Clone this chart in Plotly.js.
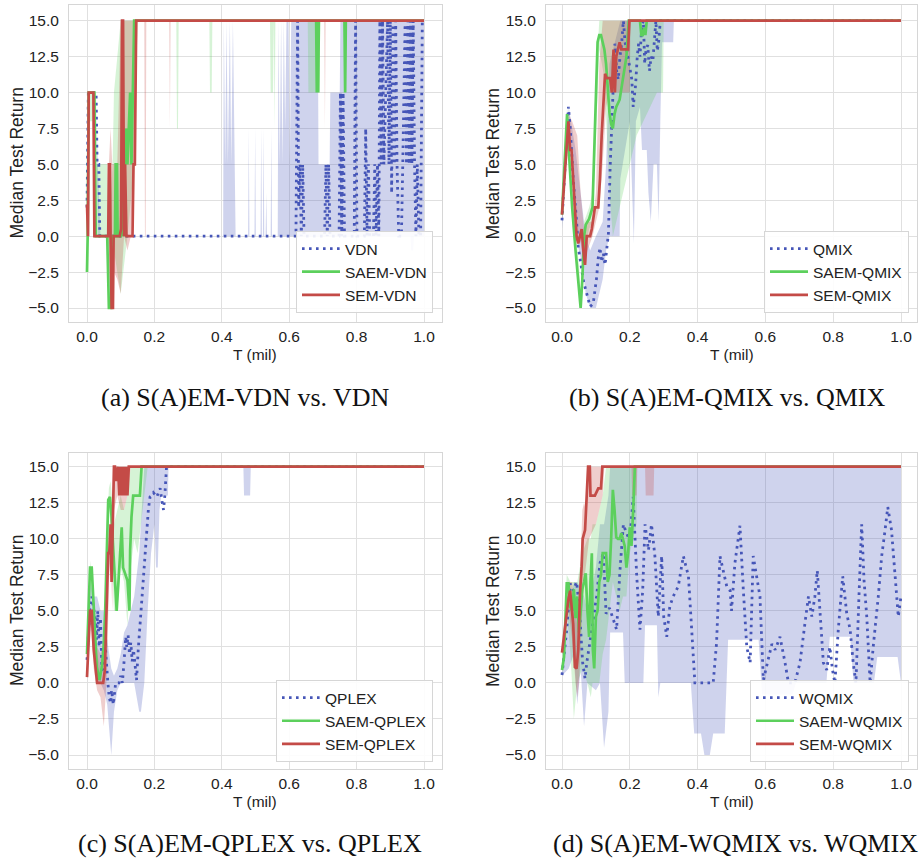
<!DOCTYPE html>
<html><head><meta charset="utf-8">
<script src="https://cdn.plot.ly/plotly-3.0.1.min.js"></script>
<style>html,body{margin:0;padding:0;background:#fff}#chart{width:920px;height:859px}</style>
</head><body><div id="chart"></div>
<script>
// ---------- tick labels ----------
const xTickVals = [0, 0.2, 0.4, 0.6, 0.8, 1.0];
const xTickText = ['0.0', '0.2', '0.4', '0.6', '0.8', '1.0'];
const yTickVals = [-5, -2.5, 0, 2.5, 5, 7.5, 10, 12.5, 15];
const yTickText = ['\u22125.0', '\u22122.5', '0.0', '2.5', '5.0', '7.5', '10.0', '12.5', '15.0'];

// ---------- panel (a): VDN ----------
const a_vdn_x = [0, 0.004, 0.027, 0.03, 0.035, 0.038, 0.62, 0.625, 0.628, 0.632, 0.636, 0.64, 0.644, 0.648, 0.705, 0.709, 0.713, 0.717, 0.721, 0.748, 0.752, 0.756, 0.76, 0.764, 0.793, 0.797, 0.801, 0.823, 0.827, 0.831, 0.835, 0.839, 0.85, 0.854, 0.858, 0.862, 0.866, 0.869, 0.873, 0.877, 0.881, 0.892, 0.896, 0.9, 0.904, 0.908, 0.912, 0.916, 0.92, 0.925, 0.933, 0.937, 0.944, 0.948, 0.952, 0.956, 0.96, 0.964, 0.968, 0.972, 0.976, 0.98, 0.985, 0.99, 0.995, 1.0];
const a_vdn_y = [2, 10, 10, 5, 5, 0, 0, 15, 2, 5, 0, 5, 0, 0, 0, 5, 0, 5, 0, 0, 10, 0, 10, 0, 0, 15, 0, 0, 7.5, 0, 5, 0, 0, 5, 0, 5, 0, 15, 5, 15, 5, 15, 5, 15, 3, 15, 5, 15, 5, 0, 0, 5, 15, 5, 15, 5, 15, 5, 15, 5, 0, 5, 0, 0, 15, 15];
const a_saem_x = [0, 0.002, 0.005, 0.022, 0.026, 0.06, 0.065, 0.072, 0.076, 0.083, 0.085, 0.089, 0.091, 0.1, 0.104, 0.108, 0.112, 0.116, 0.12, 0.124, 0.128, 0.132, 0.136, 0.14, 0.68, 0.682, 0.684, 0.686, 0.688, 0.764, 0.766, 0.768, 1.0];
const a_saem_y = [-2.5, 0, 10, 10, 0, 0, -5, -5, 0, 0, 5, 5, 0, 0, 3, 0, 5, 7.5, 5, 7.5, 10, 5, 10, 15, 15, 10, 15, 10, 15, 15, 10, 15, 15];
const a_sem_x = [0, 0.001, 0.003, 0.005, 0.019, 0.022, 0.063, 0.065, 0.068, 0.07, 0.073, 0.077, 0.079, 0.097, 0.101, 0.104, 0.107, 0.11, 0.113, 0.117, 0.135, 0.138, 0.142, 0.146, 1.0];
const a_sem_y = [2.2, 0, 0, 10, 10, 0, 0, 5, 5, 0, -5, -5, 0, 0, 0.5, 15, 15, 0, 5, 0, 0, 5, 5, 15, 15];
// bands
const a_vdn_bx = [0, 0.004, 0.027, 0.032, 0.04, 0.404, 0.406, 0.41, 0.414, 0.418, 0.424, 0.428, 0.433, 0.437, 0.441, 0.478, 0.48, 0.482, 0.497, 0.499, 0.501, 0.515, 0.517, 0.519, 0.522, 0.524, 0.526, 0.53, 0.532, 0.534, 0.545, 0.547, 0.549, 0.566, 0.568, 0.572, 0.576, 0.58, 0.584, 0.588, 0.592, 0.598, 0.602, 0.606, 0.685, 0.687, 0.72, 0.722, 0.75, 0.752, 0.96, 0.962, 0.968, 0.97, 1.0];
const a_vdn_lo = [2, 10, 10, 0, 0, 0, 0, 0, 0, 0, 0, 0, 0, 0, 0, 0, 0, 0, 0, 0, 0, 0, 0, 0, 0, 0, 0, 0, 0, 0, 0, 0, 0, 0, 0, 0, 0, 0, 0, 0, 0, 0, 0, 0, 0, 0, 0, 0, 0, 0, 0, -1, -1, 0, 0];
const a_vdn_hi = [2, 10, 10, 5, 0, 0, 15, 5, 15, 5, 15, 5, 15, 5, 0, 0, 7.5, 0, 0, 7.5, 0, 0, 7.5, 0, 0, 7.5, 0, 0, 3, 0, 0, 7.5, 0, 0, 15, 5, 15, 5, 15, 7.5, 15, 15, 5, 15, 15, 5, 5, 10, 10, 15, 15, 15, 15, 15, 15];
const a_saem_bx = [0, 0.005, 0.022, 0.026, 0.06, 0.065, 0.076, 0.08, 0.1, 0.12, 0.14, 0.15, 0.265, 0.267, 0.27, 0.272, 0.363, 0.365, 0.37, 0.372, 0.543, 0.545, 0.552, 0.554, 0.557, 0.559, 0.655, 0.657, 0.69, 0.692, 0.762, 0.764, 0.768, 0.77, 1.0];
const a_saem_lo = [-2.5, 8, 8, 0, 0, -5, -5, -1, -4, 0, 5, 15, 15, 7.5, 7.5, 15, 15, 10, 10, 15, 15, 10, 10, 15, 7.5, 15, 15, 10, 10, 15, 15, 10, 10, 15, 15];
const a_saem_hi = [0, 10, 10, 5, 5, 0, 5, 10, 15, 15, 15, 15, 15, 15, 15, 15, 15, 15, 15, 15, 15, 15, 15, 15, 15, 15, 15, 15, 15, 15, 15, 15, 15, 15, 15];
const a_sem_bx = [0, 0.005, 0.019, 0.022, 0.06, 0.065, 0.07, 0.075, 0.08, 0.09, 0.1, 0.11, 0.12, 0.13, 0.14, 0.15, 0.17, 0.172, 0.174, 0.176, 0.244, 0.246, 0.248, 0.704, 0.706, 0.708, 1.0];
const a_sem_lo = [2.2, 10, 10, 0, 0, -1, -5, -5, -2.5, -3, -4, 0, -1, 0, 5, 15, 15, 0, 0, 15, 15, 7.5, 15, 15, 7.5, 15, 15];
const a_sem_hi = [2.2, 10, 10, 0, 0, 5, 7.5, 5, 5, 5, 15, 15, 15, 15, 15, 15, 15, 15, 15, 15, 15, 15, 15, 15, 15, 15, 15];

// ---------- panel (b): QMIX ----------
const b_qmix_x = [0, 0.019, 0.024, 0.033, 0.043, 0.048, 0.053, 0.063, 0.073, 0.083, 0.092, 0.102, 0.107, 0.112, 0.117, 0.122, 0.127, 0.132, 0.137, 0.142, 0.147, 0.151, 0.156, 0.161, 0.166, 0.171, 0.176, 0.181, 0.186, 0.191, 0.196, 0.201, 0.206, 0.21, 0.213, 0.217, 0.222, 0.226, 0.23, 0.235, 0.24, 0.244, 0.248, 0.253, 0.258, 0.263, 0.268, 0.272, 0.277, 0.281, 0.285, 0.29, 1.0];
const b_qmix_y = [1.1, 9, 7.6, 4, 1, -0.8, -1.5, -3.1, -4, -4.9, -4.7, -2.9, -1.5, -0.8, -1.8, -1.2, -2, -0.7, 0.2, 4.8, 7.6, 9.9, 13.4, 11.5, 10.9, 12.5, 13.4, 15, 13.5, 13, 12.3, 11.5, 10.9, 9, 9.5, 10.5, 12.5, 13.4, 12.5, 14.5, 15, 12, 13, 13.3, 11.5, 12.5, 12.2, 13.5, 15, 12.9, 13.5, 15, 15];
const b_saem_x = [0, 0.015, 0.02, 0.03, 0.04, 0.05, 0.055, 0.06, 0.065, 0.07, 0.075, 0.08, 0.09, 0.1, 0.105, 0.11, 0.115, 0.12, 0.125, 0.13, 0.135, 0.14, 0.145, 0.15, 0.155, 0.16, 0.17, 0.18, 0.19, 0.197, 0.23, 0.234, 0.238, 0.242, 0.246, 0.25, 1.0];
const b_saem_y = [1.5, 8.5, 6, 2, -1, -3.5, -5, -3, 0, 0.8, 1, 1.2, 2, 9, 13.5, 14, 14, 13.5, 13, 12, 10, 8.6, 7.8, 7.5, 8.5, 9, 9.5, 11, 12.5, 15, 15, 14, 14, 14.5, 14, 15, 15];
const b_sem_x = [0, 0.019, 0.024, 0.028, 0.033, 0.043, 0.048, 0.053, 0.058, 0.063, 0.068, 0.073, 0.083, 0.088, 0.097, 0.107, 0.112, 0.117, 0.122, 0.127, 0.132, 0.142, 0.147, 0.152, 0.156, 0.16, 0.165, 0.17, 0.175, 0.18, 0.185, 0.195, 0.199, 1.0];
const b_sem_y = [1.5, 8, 6, 6, 4, 0, -0.5, 0, 0.5, -1, -2, 0, 0, 0.5, 2, 2, 4, 7, 9.5, 11.3, 11, 11, 10, 13, 10, 12.5, 13, 13.5, 13, 13, 13, 13, 15, 15];
const b_qmix_bx = [0, 0.02, 0.04, 0.06, 0.07, 0.083, 0.1, 0.12, 0.13, 0.14, 0.17, 0.172, 0.2, 0.205, 0.212, 0.218, 0.23, 0.236, 0.25, 0.255, 0.262, 0.27, 0.28, 0.285, 0.29, 0.295, 0.297, 0.328, 0.33, 1.0];
const b_qmix_lo = [0.5, 8.5, 0, -2, -4, -5, -5, -3, -1, 0, 0, 4, 8, 4, -0.5, 8, 9, 6, 6, 3, 1, 5, 5, 1, 8, 13.5, 13.5, 13.5, 15, 15];
const b_qmix_hi = [1.5, 9, 6, 2, 0, -1, 0, 1, 5, 12, 15, 15, 15, 15, 15, 15, 15, 15, 15, 15, 15, 15, 15, 15, 15, 15, 15, 15, 15, 15];
const b_saem_bx = [0, 0.015, 0.03, 0.05, 0.055, 0.065, 0.08, 0.09, 0.1, 0.11, 0.125, 0.14, 0.15, 0.16, 0.18, 0.2, 0.22, 0.24, 0.26, 0.28, 0.29, 0.298, 0.3, 1.0];
const b_saem_lo = [1, 8, 1, -4, -5, -1, 0.5, 1, 7, 13, 11, 3, 0, 1, 3, 5, 7, 8, 9, 10, 10, 10, 15, 15];
const b_saem_hi = [2, 9, 3, -2, -4, 1, 2, 3, 11, 15, 15, 15, 15, 15, 15, 15, 15, 15, 15, 15, 15, 15, 15, 15];
const b_sem_bx = [0, 0.019, 0.03, 0.045, 0.055, 0.065, 0.075, 0.09, 0.1, 0.11, 0.12, 0.13, 0.14, 0.16, 0.18, 0.2, 0.202, 1.0];
const b_sem_lo = [1.2, 7.5, 5, 0, -0.5, -2, -1, 0, 1, 2, 5, 9, 10, 10, 10, 10, 15, 15];
const b_sem_hi = [2, 8.5, 8, 7, 3, 0.5, 1, 1, 3, 12, 15, 15, 15, 15, 15, 15, 15, 15];

// ---------- panel (c): QPLEX ----------
const c_qplex_x = [0, 0.009, 0.014, 0.02, 0.024, 0.028, 0.032, 0.036, 0.04, 0.044, 0.048, 0.053, 0.058, 0.062, 0.066, 0.07, 0.073, 0.078, 0.085, 0.095, 0.1, 0.105, 0.11, 0.115, 0.118, 0.122, 0.126, 0.13, 0.134, 0.138, 0.142, 0.147, 0.152, 0.157, 0.162, 0.167, 0.172, 0.177, 0.182, 0.187, 0.192, 0.197, 0.202, 0.207, 0.212, 0.217, 0.222, 0.227, 0.231, 0.236, 1.0];
const c_qplex_y = [1.6, 5.3, 6, 5, 4.5, 3, 5, 2.5, 4.5, 1, 0.9, 3, 1, 0, -1, -1.4, -0.5, -1.5, 0, 0, 0.5, 0, 1.5, 3.2, 2.5, 3.3, 2, 2.8, 1.5, 2.3, 1.4, 0.2, 2.3, 3.9, 5.8, 6.9, 8.5, 10.1, 12, 12.9, 13, 13.2, 13, 12.9, 13.2, 13.5, 12.7, 12, 13, 15, 15];
const c_saem_x = [0, 0.009, 0.014, 0.019, 0.024, 0.029, 0.037, 0.044, 0.049, 0.054, 0.058, 0.063, 0.068, 0.073, 0.078, 0.083, 0.088, 0.093, 0.098, 0.103, 0.107, 0.113, 0.12, 0.126, 0.128, 0.132, 0.137, 0.157, 0.162, 1.0];
const c_saem_y = [2, 8, 8, 5.3, 3.4, 1.1, 0.2, 1.1, 2.3, 5, 9.2, 12.7, 12.9, 11.5, 9.2, 7.4, 5, 6.9, 9.2, 10.8, 8, 7.6, 7.1, 5, 9.2, 11.5, 13, 13, 15, 15];
const c_sem_x = [0, 0.009, 0.014, 0.02, 0.026, 0.03, 0.048, 0.053, 0.058, 0.063, 0.066, 0.07, 0.073, 0.076, 0.08, 0.083, 0.086, 0.092, 0.096, 0.1, 0.104, 0.108, 0.112, 0.116, 0.12, 0.124, 1.0];
const c_sem_y = [0.4, 5, 5, 2.3, 0.9, 0, 0, 0.9, 5, 9, 9, 11, 7, 10, 15, 15, 14, 15, 13, 15, 13, 15, 13, 15, 13, 15, 15];
const c_qplex_bx = [0, 0.01, 0.02, 0.03, 0.04, 0.05, 0.06, 0.072, 0.08, 0.09, 0.1, 0.11, 0.12, 0.13, 0.14, 0.155, 0.16, 0.17, 0.18, 0.19, 0.2, 0.205, 0.21, 0.215, 0.22, 0.225, 0.24, 0.242, 0.464, 0.466, 0.484, 0.486, 1.0];
const c_qplex_lo = [1.5, 4, 3, 0, 0, -0.5, -1.5, -5, -2, -0.5, 0, 0, 0, 0, 0, -2, -2, 0, 5, 9, 11, 8, 8, 12, 13, 13, 13, 15, 15, 13, 13, 15, 15];
const c_qplex_hi = [2, 7, 6, 6, 5, 5, 3, 1, 0.5, 1, 2, 3.5, 4, 5, 6, 9, 11, 15, 15, 15, 15, 15, 15, 15, 15, 15, 15, 15, 15, 15, 15, 15, 15];
const c_saem_bx = [0, 0.01, 0.02, 0.03, 0.04, 0.05, 0.06, 0.065, 0.07, 0.08, 0.09, 0.1, 0.11, 0.12, 0.13, 0.14, 0.15, 0.16, 0.17, 0.18, 0.185, 1.0];
const c_saem_lo = [1.5, 7.5, 4, 0.5, 0, 1.5, 6, 12, 11, 5, 5, 8, 7, 4, 8, 10, 9, 11, 13, 15, 15, 15];
const c_saem_hi = [2.5, 8.5, 6, 2, 1, 3, 11, 13.5, 14, 11, 12, 13, 12, 13, 15, 15, 15, 15, 15, 15, 15, 15];
const c_sem_bx = [0, 0.01, 0.02, 0.03, 0.04, 0.05, 0.055, 0.06, 0.065, 0.07, 0.075, 0.08, 0.09, 0.1, 0.11, 0.12, 0.13, 1.0];
const c_sem_lo = [0.3, 4.5, 1, -0.5, -1, -3, -1, 1, 7, 9, 5, 12, 13, 12, 12, 13, 15, 15];
const c_sem_hi = [0.5, 5.5, 3, 2.5, 2, 3, 3, 3, 10, 12, 12, 15, 15, 15, 15, 15, 15, 15];

// ---------- panel (d): WQMIX ----------
const d_wqmix_x = [0, 0.014, 0.024, 0.033, 0.043, 0.05, 0.055, 0.061, 0.068, 0.073, 0.088, 0.102, 0.112, 0.122, 0.13, 0.14, 0.15, 0.161, 0.171, 0.181, 0.19, 0.2, 0.21, 0.22, 0.23, 0.238, 0.245, 0.255, 0.264, 0.274, 0.284, 0.294, 0.3, 0.309, 0.318, 0.328, 0.343, 0.358, 0.373, 0.383, 0.392, 0.446, 0.456, 0.466, 0.476, 0.486, 0.496, 0.5, 0.51, 0.525, 0.535, 0.545, 0.555, 0.564, 0.574, 0.584, 0.594, 0.609, 0.619, 0.629, 0.643, 0.658, 0.668, 0.687, 0.702, 0.717, 0.727, 0.737, 0.746, 0.753, 0.761, 0.771, 0.781, 0.79, 0.798, 0.805, 0.815, 0.828, 0.84, 0.85, 0.859, 0.867, 0.876, 0.884, 0.891, 0.899, 0.909, 0.918, 0.933, 0.943, 0.953, 0.961, 0.972, 0.982, 0.992, 1.0];
const d_wqmix_y = [0.55, 3.7, 6.9, 6.4, 7, 5.5, 3.7, 1.4, 0.3, 1.4, 3.7, 6, 8.3, 9, 4.8, 5.2, 4.5, 3.7, 7.8, 11, 10.4, 9.9, 12.9, 7.6, 3.7, 6.4, 11, 9.2, 11, 8.8, 4.6, 8.8, 4.6, 3.2, 5.3, 6, 6.7, 8.8, 7.4, 3.7, 0, 0, 2.8, 8.8, 7.8, 6.7, 6.4, 5, 8.3, 10.9, 6.4, 2.5, 1.4, 8.8, 7.4, 6, 0.2, 1.8, 2.7, 2.3, 3.2, 1.4, 0, 0, 1.4, 4.2, 6, 4.6, 6, 7.8, 5, 1.4, 0.9, 2.5, 0.9, 0, 3.7, 7.4, 4.8, 3.7, 1.4, 0, 6, 11, 7.1, 4.6, 0, 2.5, 6, 8.8, 10.6, 12.2, 10.6, 7.8, 4.6, 6];
const d_saem_x = [0, 0.006, 0.014, 0.019, 0.024, 0.03, 0.035, 0.04, 0.045, 0.05, 0.055, 0.06, 0.065, 0.07, 0.075, 0.08, 0.084, 0.088, 0.091, 0.095, 0.1, 0.105, 0.11, 0.115, 0.12, 0.13, 0.135, 0.14, 0.145, 0.15, 0.155, 0.16, 0.165, 0.17, 0.175, 0.18, 0.185, 0.19, 0.195, 0.2, 0.205, 0.21, 0.215, 1.0];
const d_saem_y = [0.9, 1.8, 6.9, 6.9, 5.3, 5, 6.5, 4.5, 6, 3.5, 5, 6.5, 7, 7.6, 5, 3.2, 7, 9, 2.3, 1, 4.6, 5, 7, 7.5, 9, 9, 7, 7.5, 10, 13.4, 12, 10.1, 10, 10, 10.4, 10, 9.5, 8, 9, 10.8, 9.5, 12, 15, 15];
const d_sem_x = [0, 0.009, 0.019, 0.024, 0.028, 0.033, 0.038, 0.043, 0.048, 0.053, 0.058, 0.061, 0.068, 0.073, 0.077, 0.082, 0.084, 0.097, 0.107, 0.115, 0.119, 1.0];
const d_sem_y = [2.1, 3.9, 5.8, 6.4, 5.3, 4.1, 1.1, 1, 2.3, 6.2, 8.1, 10, 10.6, 12.9, 15, 15, 13, 13, 13.5, 13.5, 15, 15];
const d_wqmix_bx = [0, 0.02, 0.035, 0.045, 0.055, 0.065, 0.075, 0.1, 0.112, 0.124, 0.137, 0.142, 0.18, 0.185, 0.24, 0.245, 0.28, 0.284, 0.29, 0.38, 0.39, 0.41, 0.42, 0.436, 0.446, 0.48, 0.49, 0.58, 0.59, 0.68, 0.69, 0.78, 0.79, 0.85, 0.86, 0.92, 0.93, 0.99, 1.0];
const d_wqmix_lo = [0.5, 1, 2, -1.5, 1, -3, 0, -0.5, 0, -4.5, -2, 3.5, 3.5, 0, 0, 4, 4, -1, 0, 0, -3.5, -3.5, -5, -5, -3.5, -3.5, 3, 3, -0.8, -0.8, 0, 0, 3.2, 3.2, 0, 0, 1.8, 1.8, 0];
const d_wqmix_hi = [0.6, 5, 7, 7, 6.5, 6, 5, 8, 11, 11, 13, 15, 15, 15, 15, 15, 15, 15, 15, 15, 15, 15, 15, 15, 15, 15, 15, 15, 15, 15, 15, 15, 15, 15, 15, 15, 15, 15, 15];
const d_saem_bx = [0, 0.014, 0.025, 0.035, 0.045, 0.06, 0.075, 0.085, 0.09, 0.1, 0.11, 0.12, 0.13, 0.14, 0.15, 0.16, 0.17, 0.18, 0.19, 0.2, 0.21, 0.22, 0.222, 1.0];
const d_saem_lo = [0.8, 5, 2, -2.5, 0, 1, 0, -1, 0, 0, 0, 2, 3, 5, 7, 6, 5, 6, 6, 9, 10, 11, 15, 15];
const d_saem_hi = [1, 7.5, 7, 7, 7, 9, 10, 10, 11, 11, 12, 13, 15, 15, 15, 15, 15, 15, 15, 15, 15, 15, 15, 15];
const d_sem_bx = [0, 0.01, 0.02, 0.03, 0.04, 0.045, 0.05, 0.055, 0.06, 0.065, 0.07, 0.075, 0.08, 0.1, 0.12, 0.125, 0.205, 0.207, 0.22, 0.222, 0.245, 0.247, 0.27, 0.272, 1.0];
const d_sem_lo = [2, 3, 5, 3, 0, -1, 0, 2, 5, 7, 8, 9, 10, 11, 13, 15, 15, 13, 13, 15, 15, 13, 13, 15, 15];
const d_sem_hi = [2.2, 5, 7, 7, 5, 4, 5, 8, 12, 12.5, 12, 13, 15, 15, 15, 15, 15, 15, 15, 15, 15, 15, 15, 15, 15];

// ---------- names ----------
const names = {
  a: ['VDN', 'SAEM-VDN', 'SEM-VDN'],
  b: ['QMIX', 'SAEM-QMIX', 'SEM-QMIX'],
  c: ['QPLEX', 'SAEM-QPLEX', 'SEM-QPLEX'],
  d: ['WQMIX', 'SAEM-WQMIX', 'SEM-WQMIX']
};
const captions = ['(a) S(A)EM-VDN vs. VDN', '(b) S(A)EM-QMIX vs. QMIX', '(c) S(A)EM-QPLEX vs. QPLEX', '(d) S(A)EM-WQMIX vs. WQMIX'];

// ---------- styles ----------
const BLUE = '#4656b8', GREEN = '#5cd05c', RED = '#c44b47';
const BLUE_F = 'rgba(70,86,184,0.26)', GREEN_F = 'rgba(92,208,92,0.25)', RED_F = 'rgba(196,75,71,0.27)';
const FONT = 'Liberation Sans, Arial, sans-serif';

function band(bx, lo, hi, fc, xa, ya) {
  return {
    x: bx.concat(bx.slice().reverse()),
    y: hi.concat(lo.slice().reverse()),
    type: 'scatter', mode: 'lines', fill: 'toself', fillcolor: fc,
    line: {width: 0, color: fc}, hoverinfo: 'skip', showlegend: false,
    xaxis: xa, yaxis: ya
  };
}
function med(x, y, name, color, dash, xa, ya, leg) {
  return {
    x: x, y: y, type: 'scatter', mode: 'lines', name: name,
    line: {color: color, width: dash ? 2.8 : 2.7, dash: dash || 'solid'},
    xaxis: xa, yaxis: ya, legend: leg, showlegend: true
  };
}
const DOT = '2.6px,4.4px';

function panel(p, xa, ya, leg) {
  const n = names[p];
  const d = {
    a: [a_vdn_x, a_vdn_y, a_saem_x, a_saem_y, a_sem_x, a_sem_y, a_vdn_bx, a_vdn_lo, a_vdn_hi, a_saem_bx, a_saem_lo, a_saem_hi, a_sem_bx, a_sem_lo, a_sem_hi],
    b: [b_qmix_x, b_qmix_y, b_saem_x, b_saem_y, b_sem_x, b_sem_y, b_qmix_bx, b_qmix_lo, b_qmix_hi, b_saem_bx, b_saem_lo, b_saem_hi, b_sem_bx, b_sem_lo, b_sem_hi],
    c: [c_qplex_x, c_qplex_y, c_saem_x, c_saem_y, c_sem_x, c_sem_y, c_qplex_bx, c_qplex_lo, c_qplex_hi, c_saem_bx, c_saem_lo, c_saem_hi, c_sem_bx, c_sem_lo, c_sem_hi],
    d: [d_wqmix_x, d_wqmix_y, d_saem_x, d_saem_y, d_sem_x, d_sem_y, d_wqmix_bx, d_wqmix_lo, d_wqmix_hi, d_saem_bx, d_saem_lo, d_saem_hi, d_sem_bx, d_sem_lo, d_sem_hi]
  }[p];
  return [
    band(d[6], d[7], d[8], BLUE_F, xa, ya),
    band(d[9], d[10], d[11], GREEN_F, xa, ya),
    band(d[12], d[13], d[14], RED_F, xa, ya),
    med(d[0], d[1], n[0], BLUE, DOT, xa, ya, leg),
    med(d[2], d[3], n[1], GREEN, null, xa, ya, leg),
    med(d[4], d[5], n[2], RED, null, xa, ya, leg)
  ];
}

const traces = [].concat(
  panel('a', 'x', 'y', 'legend'),
  panel('b', 'x2', 'y2', 'legend2'),
  panel('c', 'x3', 'y3', 'legend3'),
  panel('d', 'x4', 'y4', 'legend4')
);

const W = 920, H = 859;
function px(v) { return v / W; }
function py(v) { return 1 - v / H; }

function xax(l, r, x0, x1, anchor) {
  const u = (x1 - x0);
  return {
    domain: [px(l), px(r)], anchor: anchor,
    range: [-(x0 - l) / u, 1 + (r - x1) / u],
    tickvals: xTickVals, ticktext: xTickText, ticks: '',
    ticklabelstandoff: 0,
    showgrid: true, gridcolor: '#e0e0e0', gridwidth: 1, zeroline: false,
    showline: true, mirror: true, linecolor: '#d6d6d6', linewidth: 1,
    tickfont: {family: FONT, size: 15.5, color: '#222'}, fixedrange: true
  };
}
function yax(t, b, y15, ym5, anchor) {
  const u = (ym5 - y15) / 20;
  return {
    domain: [py(b), py(t)], anchor: anchor,
    range: [-5 - (b - ym5) / u, 15 + (y15 - t) / u],
    tickvals: yTickVals, ticktext: yTickText, ticks: '',
    ticklabelstandoff: 6,
    showgrid: true, gridcolor: '#e0e0e0', gridwidth: 1, zeroline: false,
    showline: true, mirror: true, linecolor: '#d6d6d6', linewidth: 1,
    tickfont: {family: FONT, size: 15.5, color: '#222'}, fixedrange: true
  };
}
function legend(xr, yb) {
  return {
    x: px(xr), y: py(yb), xanchor: 'right', yanchor: 'bottom',
    bgcolor: 'rgba(255,255,255,0.9)', bordercolor: '#d6d6d6', borderwidth: 1,
    font: {family: FONT, size: 15.5, color: '#222'}, traceorder: 'normal',
    itemwidth: 38, tracegroupgap: 0
  };
}

const annotations = [];
function addTitles(cx, xtY, ytX, cy, capX, capY, cap) {
  annotations.push({text: 'T (mil)', x: px(cx), y: py(xtY), xref: 'paper', yref: 'paper',
    showarrow: false, xanchor: 'center', yanchor: 'middle', font: {family: FONT, size: 15.5, color: '#222'}});
  annotations.push({text: 'Median Test Return', x: px(ytX), y: py(cy), xref: 'paper', yref: 'paper',
    showarrow: false, textangle: -90, xanchor: 'center', yanchor: 'middle', font: {family: FONT, size: 17.5, color: '#222'}});
  annotations.push({text: cap, x: px(capX), y: py(capY), xref: 'paper', yref: 'paper',
    showarrow: false, xanchor: 'center', yanchor: 'middle', font: {family: 'Liberation Serif, Times New Roman, serif', size: 26, color: '#111'}});
}
addTitles(255.5, 354, 17, 163.5, 245, 397, captions[0]);
addTitles(731.5, 354, 493, 163.5, 727, 397, captions[1]);
addTitles(255.5, 801, 17, 611, 250, 843, captions[2]);
addTitles(731.5, 801, 493, 611, 735, 843, captions[3]);

const layout = {
  width: W, height: H,
  margin: {l: 0, r: 0, t: 0, b: 0},
  paper_bgcolor: '#fff', plot_bgcolor: '#fff',
  showlegend: true,
  xaxis: xax(69, 442, 87, 424, 'y'),
  yaxis: yax(5, 322, 20.7, 308, 'x'),
  xaxis2: xax(546, 917, 562, 901, 'y2'),
  yaxis2: yax(5, 322, 20.7, 308, 'x2'),
  xaxis3: xax(69, 442, 87, 424, 'y3'),
  yaxis3: yax(453, 769, 466.7, 755, 'x3'),
  xaxis4: xax(546, 917, 562, 901, 'y4'),
  yaxis4: yax(453, 769, 466.7, 755, 'x4'),
  legend: legend(433, 313),
  legend2: legend(909, 313),
  legend3: legend(433, 762),
  legend4: legend(909, 762),
  annotations: annotations
};

Plotly.newPlot('chart', traces, layout, {displayModeBar: false, staticPlot: true});
</script></body></html>
